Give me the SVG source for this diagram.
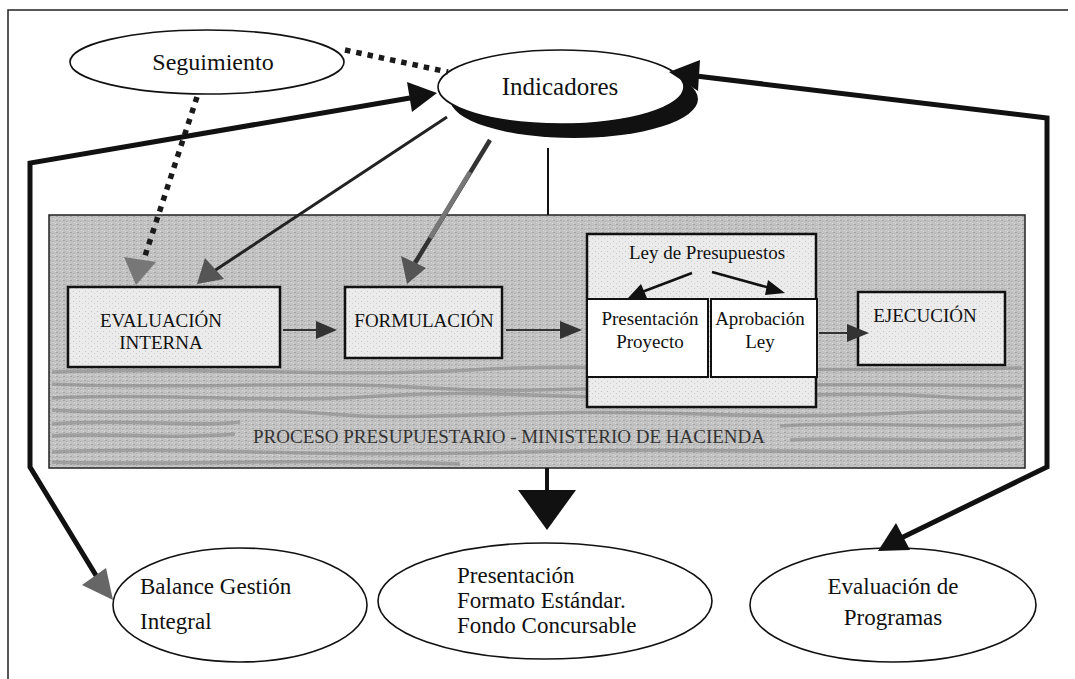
<svg xmlns="http://www.w3.org/2000/svg" width="1075" height="679" viewBox="0 0 1075 679">
<style>
text{font-family:"Liberation Serif","Times New Roman",serif;fill:#111}
.ell{fill:#fff;stroke:#111;stroke-width:1.6}
.lbl{font-size:23px}
.box{fill:url(#light);stroke:#111;stroke-width:2.5}
.wbox{fill:#fff;stroke:#111;stroke-width:2}
.blbl{font-size:19px;text-anchor:middle}
.thick{fill:none;stroke:#111;stroke-width:5;stroke-linejoin:miter}
.dot{fill:none;stroke:#1a1a1a;stroke-width:5.5;stroke-dasharray:5.5 6}
.mid{fill:none;stroke:#222;stroke-width:3}
.thin{fill:none;stroke:#333;stroke-width:2}
.streak{fill:none;stroke:#858585;stroke-width:3.5;opacity:0.6}
</style>
<defs>
<pattern id="tex" width="7" height="4" patternUnits="userSpaceOnUse">
<rect width="7" height="4" fill="#c2c2c2"/>
<rect x="0" y="0" width="2" height="1" fill="#a4a4a4"/>
<rect x="4" y="2" width="1" height="1" fill="#e0e0e0"/>
<rect x="3" y="1" width="2" height="1" fill="#b0b0b0"/>
<rect x="6" y="3" width="1" height="1" fill="#dadada"/>
</pattern>
<pattern id="light" width="6" height="5" patternUnits="userSpaceOnUse">
<rect width="6" height="5" fill="#ebebeb"/>
<rect x="1" y="1" width="1" height="1" fill="#c4c4c4"/>
<rect x="4" y="3" width="1" height="1" fill="#cfcfcf"/>
</pattern>
</defs>
<rect width="1075" height="679" fill="#fff"/>
<path d="M8,679 V10 H1068" fill="none" stroke="#222" stroke-width="1.5"/>

<g id="proceso">
<rect x="49" y="215" width="976" height="253" fill="url(#tex)" stroke="#222" stroke-width="1.5"/>
<path class="streak" d="M52,372 C200,366 330,378 470,370 S700,374 1022,368"/>
<path class="streak" d="M52,384 C180,390 300,380 430,388 S620,380 1022,386"/>
<path class="streak" d="M52,398 C150,392 260,404 380,396 S560,402 760,396 S940,402 1022,398"/>
<path class="streak" d="M52,410 C140,416 240,406 330,414 S520,408 700,414 S900,408 1022,412"/>
<path class="streak" d="M52,424 C120,418 200,428 240,422"/>
<path class="streak" d="M780,426 C860,420 940,430 1022,424"/>
<path class="streak" d="M52,436 C110,432 170,440 235,434"/>
<path class="streak" d="M790,440 C870,436 950,444 1022,438"/>
<path class="streak" d="M52,452 C180,446 320,458 520,452 S800,456 1022,450"/>
<path class="streak" d="M52,462 C160,466 300,458 460,464"/>
<text x="253" y="443" style="font-size:19px;fill:#333">PROCESO PRESUPUESTARIO - MINISTERIO DE HACIENDA</text>
</g>

<g id="evaluacion-interna">
<rect class="box" x="68" y="287" width="212" height="80"/>
<text class="blbl" x="161" y="327">EVALUACIÓN</text>
<text class="blbl" x="161" y="349">INTERNA</text>
</g>
<g id="formulacion">
<rect class="box" x="345" y="287" width="157" height="71"/>
<text class="blbl" x="424" y="327">FORMULACIÓN</text>
</g>
<g id="ley-presupuestos">
<rect class="box" x="587" y="234" width="229" height="173"/>
<text class="blbl" x="707" y="259">Ley de Presupuestos</text>
</g>
<g id="presentacion-proyecto">
<rect class="wbox" x="587" y="299" width="121" height="78"/>
<text class="blbl" x="650" y="325">Presentación</text>
<text class="blbl" x="650" y="348">Proyecto</text>
</g>
<g id="aprobacion-ley">
<rect class="wbox" x="711" y="299" width="106" height="78"/>
<text class="blbl" x="760" y="325">Aprobación</text>
<text class="blbl" x="760" y="348">Ley</text>
</g>
<g id="ejecucion">
<rect class="box" x="858" y="292" width="147" height="73"/>
<text class="blbl" x="925" y="322">EJECUCIÓN</text>
</g>

<g id="seguimiento">
<ellipse class="ell" cx="207" cy="62" rx="137" ry="32"/>
<text x="213" y="70" text-anchor="middle" style="font-size:24px">Seguimiento</text>
</g>
<g id="indicadores">
<ellipse cx="574" cy="99" rx="124" ry="39" fill="#111"/>
<ellipse class="ell" cx="561" cy="87" rx="123" ry="37"/>
<text x="560" y="95" text-anchor="middle" style="font-size:25px">Indicadores</text>
</g>
<g id="balance">
<ellipse class="ell" cx="240" cy="605" rx="127" ry="57"/>
<text class="lbl" x="140" y="594">Balance Gestión</text>
<text class="lbl" x="140" y="629">Integral</text>
</g>
<g id="presentacion-formato">
<ellipse class="ell" cx="545" cy="601" rx="167" ry="58"/>
<text class="lbl" x="457" y="583">Presentación</text>
<text class="lbl" x="457" y="608">Formato Estándar.</text>
<text class="lbl" x="457" y="633">Fondo Concursable</text>
</g>
<g id="evaluacion-programas">
<ellipse class="ell" cx="893" cy="605" rx="143" ry="57"/>
<text class="lbl" x="893" y="594" text-anchor="middle">Evaluación de</text>
<text class="lbl" x="893" y="625" text-anchor="middle">Programas</text>
</g>

<g id="connectors">
<path class="dot" d="M345,50 L448,72"/>
<path class="dot" d="M197,97 L143,262"/>
<polygon points="124,257 156,262 136,285" fill="#777"/>
<path class="thick" d="M100,582 L30,467 L30,163 L410,98"/>
<polygon points="437,93 407,82 412,112" fill="#111"/>
<polygon points="113,600 82,585 106,568" fill="#666"/>
<path class="thick" d="M696,76 L1047,118 L1047,467 L895,541"/>
<polygon points="669,72 700,60 698,91" fill="#111"/>
<polygon points="878,551 896,523 910,550" fill="#111"/>
<path class="mid" d="M447,117 L214,271"/>
<polygon points="197,284 205,258 224,279" fill="#555"/>
<path d="M490,140 L415,263" fill="none" stroke="#333" stroke-width="4.5"/>
<path d="M470,172 L430,238" fill="none" stroke="#777" stroke-width="4.5"/>
<polygon points="407,284 401,256 426,268" fill="#555"/>
<path d="M548,148 V215" fill="none" stroke="#111" stroke-width="2"/>
<path d="M547,468 V495" fill="none" stroke="#111" stroke-width="4"/>
<polygon points="518,490 576,490 547,530" fill="#111"/>
<path class="thin" d="M283,330 H318"/>
<polygon points="337,330 316,321 316,339" fill="#333"/>
<path class="thin" d="M506,330 H562"/>
<polygon points="582,330 560,321 560,339" fill="#333"/>
<path class="thin" d="M819,333 H849"/>
<polygon points="869,333 847,324 847,342" fill="#333"/>
<path d="M692,273 L642,292" fill="none" stroke="#111" stroke-width="2.5"/>
<polygon points="628,298 641,284 647,298" fill="#111"/>
<path d="M712,272 L770,288" fill="none" stroke="#111" stroke-width="2.5"/>
<polygon points="785,293 768,280 765,295" fill="#111"/>
</g>
</svg>
